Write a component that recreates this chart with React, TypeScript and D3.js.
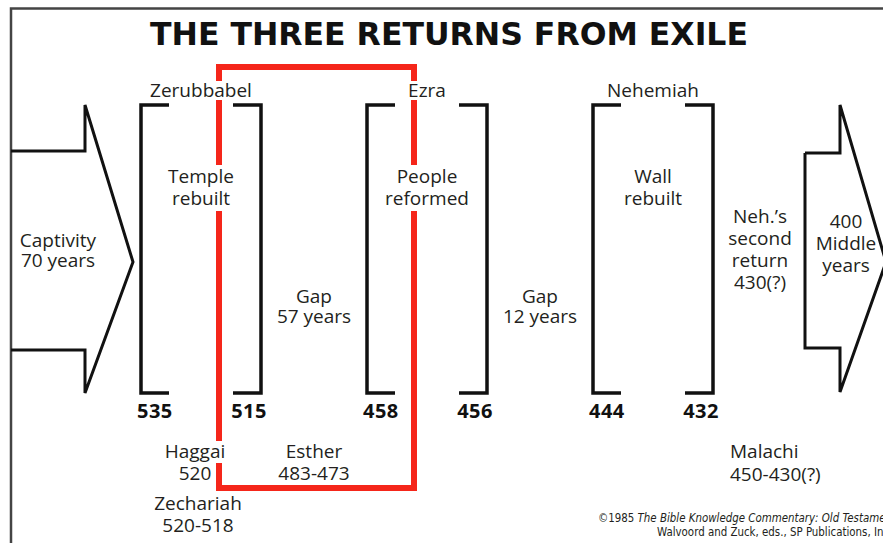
import React from "react";
import * as d3 from "d3";

const W = 883;
const H = 543;

const title = "THE THREE RETURNS FROM EXILE";
const leaders = ["Zerubbabel", "Ezra", "Nehemiah"];
const startYears = ["535", "458", "444"];
const endYears = ["515", "456", "432"];
const tasks = [["Temple", "rebuilt"], ["People", "reformed"], ["Wall", "rebuilt"]];
const gaps = [["Gap", "57 years"], ["Gap", "12 years"]];
const captivity = ["Captivity", "70 years"];
const middleYears = ["400", "Middle", "years"];
const nehSecond = ["Neh.’s", "second", "return", "430(?)"];
const haggai = ["Haggai", "520"];
const zechariah = ["Zechariah", "520-518"];
const esther = ["Esther", "483-473"];
const malachi = ["Malachi", "450-430(?)"];
const credit = ["©1985 ", "The Bible Knowledge Commentary: Old Testament", "Walvoord and Zuck, eds., SP Publications, Inc."];

const FONT = "'Open Sans', 'Noto Sans', sans-serif";
const TXT = "#231f20";
const RED = "#f5261a";

function Lines({ lines, x, y, dy, anchor = "middle", size = 19 }: any) {
  return (
    <text x={x} y={y} textAnchor={anchor} fontFamily={FONT} fontSize={size} fill={TXT}>
      {lines.map((l: string, i: number) => (
        <tspan key={i} x={x} y={y + i * dy}>{l}</tspan>
      ))}
    </text>
  );
}

export default function App() {
  const x = d3.scaleBand<string>().domain(leaders).range([141, 713]).paddingInner(106 / 226).paddingOuter(0);
  const bw = x.bandwidth();
  const yTop = 105;
  const yBot = 393;
  const serif = 28;
  const line = d3.line<[number, number]>();

  // arrows
  const axBody = 11, axHead = 85, axTip = 133, midY = 262;
  const leftArrow = line([
    [axBody, 151], [axHead, 151], [axHead, yTop], [axTip, midY], [axHead, 393], [axHead, 350], [axBody, 350],
  ]);
  const rbody = 805, rhead = 840, rtip = 886;
  const rightArrow = line([
    [rbody, 153], [rhead, 153], [rhead, yTop], [rtip, midY], [rhead, 392], [rhead, 348], [rbody, 348], [rbody, 153],
  ]);

  // red connector
  const rl = 219, rr = 414, rt = 67, rb = 488;
  const redPaths = [
    line([[rl, 81], [rl, rt], [rr, rt], [rr, 81]]),
    line([[rl, 100], [rl, 165]]),
    line([[rl, 211], [rl, 441]]),
    line([[rl, 463], [rl, rb], [rr, rb], [rr, 211]]),
    line([[rr, 100], [rr, 165]]),
  ];

  return (
    <div style={{ position: "absolute", left: 0, top: 0 }}>
      <svg width={W} height={H} style={{ display: "block", background: "#fff" }}>
        {/* frame */}
        <path d={line([[11, H], [11, 8.5], [W, 8.5]]) as string} fill="none" stroke="#444" strokeWidth={2.5} />

        {/* title */}
        <text x={449} y={45} textAnchor="middle" fontFamily="'DejaVu Sans Condensed', 'DejaVu Sans', sans-serif"
          fontStretch="condensed" fontWeight="bold" fontSize={31.5} textLength={598} lengthAdjust="spacingAndGlyphs" fill="#111">
          {title}
        </text>

        {/* arrows */}
        <path d={leftArrow as string} fill="none" stroke="#111" strokeWidth={3} strokeLinejoin="miter" />
        <path d={rightArrow as string} fill="none" stroke="#111" strokeWidth={3} strokeLinejoin="miter" />

        {/* brackets */}
        {leaders.map((d) => {
          const x0 = x(d) as number;
          const x1 = x0 + bw;
          return (
            <g key={d}>
              <path d={line([[x0 + serif, yTop], [x0, yTop], [x0, yBot], [x0 + serif, yBot]]) as string}
                fill="none" stroke="#111" strokeWidth={3.5} />
              <path d={line([[x1 - serif, yTop], [x1, yTop], [x1, yBot], [x1 - serif, yBot]]) as string}
                fill="none" stroke="#111" strokeWidth={3.5} />
            </g>
          );
        })}

        {/* red connector */}
        {redPaths.map((p, i) => (
          <path key={i} d={p as string} fill="none" stroke={RED} strokeWidth={6} strokeLinejoin="miter" />
        ))}

        {/* leader names */}
        {leaders.map((d) => (
          <text key={d} x={(x(d) as number) + bw / 2} y={97} textAnchor="middle" fontFamily={FONT} fontSize={19} fill={TXT}>{d}</text>
        ))}

        {/* tasks */}
        {leaders.map((d, i) => (
          <Lines key={d} lines={tasks[i]} x={(x(d) as number) + bw / 2} y={183} dy={22} />
        ))}

        {/* years */}
        {leaders.map((d, i) => (
          <g key={d} fontFamily={FONT} fontWeight="bold" fontSize={20} fill="#111" letterSpacing={0.5}>
            <text x={(x(d) as number) - 4} y={418} textAnchor="start">{startYears[i]}</text>
            <text x={(x(d) as number) + bw + 6} y={418} textAnchor="end">{endYears[i]}</text>
          </g>
        ))}

        {/* gaps */}
        {gaps.map((g, i) => {
          const a = (x(leaders[i]) as number) + bw;
          const b = x(leaders[i + 1]) as number;
          return <Lines key={i} lines={g} x={(a + b) / 2} y={303} dy={20} />;
        })}

        <Lines lines={captivity} x={58} y={247} dy={20} />
        <Lines lines={middleYears} x={846} y={228} dy={22} />
        <Lines lines={nehSecond} x={760} y={223} dy={22} />

        <Lines lines={haggai} x={195} y={458} dy={22} />
        <Lines lines={zechariah} x={198} y={510} dy={22} />
        <Lines lines={esther} x={314} y={458} dy={22} />
        <Lines lines={malachi} x={730} y={458} dy={23} anchor="start" />

        {/* credit */}
        <g fontFamily="'DejaVu Sans Condensed', 'DejaVu Sans', sans-serif" fontStretch="condensed" fontSize={11.4} fill={TXT}>
          <text x={598} y={522}>
            {credit[0]}<tspan fontStyle="italic">{credit[1]}</tspan>
          </text>
          <text x={657} y={536}>{credit[2]}</text>
        </g>
      </svg>
    </div>
  );
}
